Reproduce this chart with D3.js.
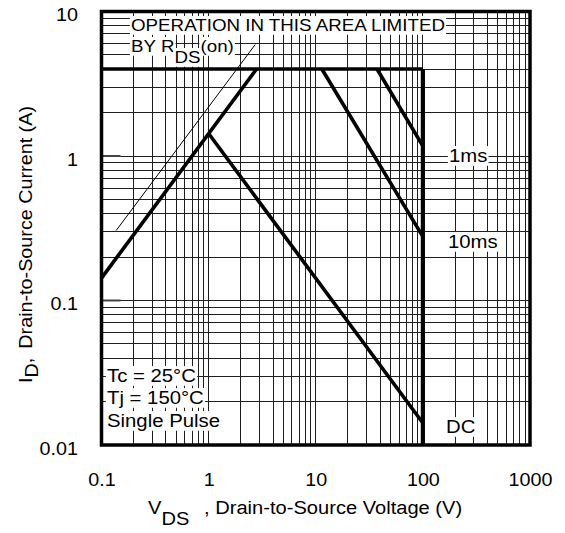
<!DOCTYPE html>
<html>
<head>
<meta charset="utf-8">
<script src="https://cdn.jsdelivr.net/npm/d3@7"></script>
<style>
  body { margin: 0; background: #fff; }
  svg { font-family: "Liberation Sans", Arial, Helvetica, sans-serif; }
</style>
</head>
<body>
<div id="chart"></div>
<script>
// axis ticks
const xTickVals = [0.1, 1, 10, 100, 1000];
const xTickLabels = ["0.1", "1", "10", "100", "1000"];
const yTickVals = [0.01, 0.1, 1, 10];
const yTickLabels = ["0.01", "0.1", "1", "10"];

// curves, [V_DS, I_D]
const rdsLimit = [[0.137, 0.305], [2.72, 5.9]];      // thin line, limited by RDS(on)
const rdsRise = [[0.1, 0.143], [2.8, 4.0]];
const currentLimit = [[0.1, 4.0], [100, 4.0]];
const dcLine = [[1, 1.43], [100, 0.0142]];
const ms10Line = [[11.4, 4.0], [100, 0.277]];
const ms1Line = [[37.3, 4.0], [100, 1.17]];
const voltLimit = [[100, 4.0], [100, 0.01]];

const W = 565, H = 533;
const SX = 1.13; // the picture's text is a bit wider than it is tall

const svg = d3.select("#chart").append("svg")
	.attr("width", W)
	.attr("height", H);

const x = d3.scaleLog().domain([0.1, 1000]).range([101.5, 530]);
const y = d3.scaleLog().domain([0.01, 10]).range([445, 11.5]);

// grid
const grid = svg.append("g")
	.attr("stroke", "#1e1e1e")
	.attr("stroke-width", 1)
	.attr("shape-rendering", "crispEdges");

grid.selectAll("line.v")
	.data(x.ticks())
	.enter().append("line")
	.attr("class", "v")
	.attr("x1", d => x(d)).attr("x2", d => x(d))
	.attr("y1", y(10)).attr("y2", y(0.01));

grid.selectAll("line.h")
	.data(y.ticks())
	.enter().append("line")
	.attr("class", "h")
	.attr("y1", d => y(d)).attr("y2", d => y(d))
	.attr("x1", x(0.1)).attr("x2", x(1000));

// small inner ticks on the left at the decades
svg.append("g").selectAll("line")
	.data([0.1, 1])
	.enter().append("line")
	.attr("x1", x(0.1)).attr("x2", x(0.1) + 19)
	.attr("y1", d => y(d)).attr("y2", d => y(d))
	.attr("stroke", "#444")
	.attr("stroke-width", 2);

// text with a white box behind every piece
const annot = svg.append("g");
function note(px, py, parts, size) {
	const g = annot.append("g")
		.attr("transform", `translate(${px},${py}) scale(${SX},1)`);
	let cx = 0;
	parts.forEach(p => {
		const r = g.append("rect").attr("fill", "#fff");
		const t = g.append("text")
			.attr("x", cx)
			.attr("y", p[1])
			.attr("font-size", size)
			.attr("fill", "#000")
			.text(p[0]);
		const b = t.node().getBBox();
		r.attr("x", b.x - 1).attr("y", b.y)
			.attr("width", b.width + 2).attr("height", b.height);
		cx += t.node().getComputedTextLength();
	});
}

note(131, 31, [["OPERATION IN THIS AREA LIMITED", 0]], 16.6);
note(131, 52, [["BY R", 0], ["DS", 11], ["(on)", 0]], 16.6);
note(449, 162, [["1ms", 0]], 18);
note(448, 248, [["10ms", 0]], 18);
note(446, 433, [["DC", 0]], 18);
note(107, 382, [["Tc = 25°C", 0]], 18);
note(107, 404, [["Tj = 150°C", 0]], 18);
note(107, 427, [["Single Pulse", 0]], 18);

// curves
const line = d3.line().x(d => x(d[0])).y(d => y(d[1]));
const curves = svg.append("g").attr("fill", "none").attr("stroke", "#000");

curves.append("path").datum(rdsLimit).attr("d", line).attr("stroke-width", 1);
[rdsRise, currentLimit, dcLine, ms10Line, ms1Line].forEach(c => {
	curves.append("path").datum(c).attr("d", line)
		.attr("stroke-width", 3.6)
		.attr("stroke-linejoin", "miter");
});
curves.append("path").datum(voltLimit).attr("d", line).attr("stroke-width", 4.2);

// frame
svg.append("rect")
	.attr("x", x(0.1)).attr("y", y(10))
	.attr("width", x(1000) - x(0.1))
	.attr("height", y(0.01) - y(10))
	.attr("fill", "none")
	.attr("stroke", "#000")
	.attr("stroke-width", 3.5);

// axes
const xAxis = d3.axisBottom(x)
	.tickValues(xTickVals)
	.tickFormat((d, i) => xTickLabels[i])
	.tickSize(0);
svg.append("g")
	.attr("transform", "translate(0,486)")
	.call(xAxis)
	.call(g => g.select(".domain").remove())
	.selectAll("text")
	.attr("y", 0).attr("dy", 0)
	.attr("font-size", 17.5)
	.attr("font-family", "Liberation Sans, Arial, sans-serif")
	.attr("fill", "#000")
	.attr("transform", `scale(${SX},1)`);

const yAxis = d3.axisLeft(y)
	.tickValues(yTickVals)
	.tickFormat((d, i) => yTickLabels[i])
	.tickSize(0).tickPadding(0);
svg.append("g")
	.attr("transform", "translate(78,0)")
	.call(yAxis)
	.call(g => g.select(".domain").remove())
	.selectAll("text")
	.attr("x", 0).attr("y", 9).attr("dy", 0)
	.attr("font-size", 17.5)
	.attr("font-family", "Liberation Sans, Arial, sans-serif")
	.attr("fill", "#000")
	.attr("transform", `scale(${SX},1)`);

// axis titles
const xt = svg.append("text")
	.attr("transform", `translate(148,514) scale(${SX},1)`)
	.attr("font-size", 17.8)
	.attr("fill", "#000");
xt.append("tspan").text("V");
xt.append("tspan").attr("dy", 11).text("DS");
xt.append("tspan").attr("dy", -11).attr("dx", 13).text(", Drain-to-Source Voltage (V)");

const yt = svg.append("text")
	.attr("transform", `translate(32,383) rotate(-90) scale(${SX},1)`)
	.attr("font-size", 17.5)
	.attr("fill", "#000");
yt.append("tspan").text("I");
yt.append("tspan").attr("dy", 6).text("D");
yt.append("tspan").attr("dy", -6).text(",");
yt.append("tspan").attr("dx", 8).text("Drain-to-Source Current (A)");
</script>
</body>
</html>
